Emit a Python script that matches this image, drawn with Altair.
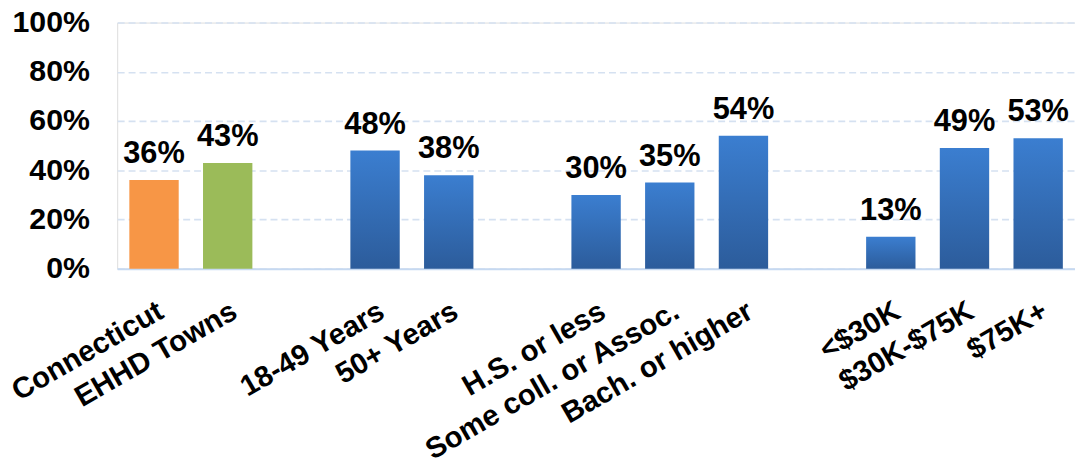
import altair as alt
import pandas as pd

# ---- data ----
labels = ["Connecticut", "EHHD Towns", "18-49 Years", "50+ Years",
          "H.S. or less", "Some coll. or Assoc.", "Bach. or higher",
          "<$30K", "$30K-$75K", "$75K+"]
values = [0.36, 0.43, 0.48, 0.38, 0.30, 0.35, 0.54, 0.13, 0.49, 0.53]
kinds = ["ct", "ehhd", "blue", "blue", "blue", "blue", "blue", "blue", "blue", "blue"]
# category order on the axis, with blank spacer slots between groups
axis_order = ["Connecticut", "EHHD Towns", " ",
              "18-49 Years", "50+ Years", "  ",
              "H.S. or less", "Some coll. or Assoc.", "Bach. or higher", "   ",
              "<$30K", "$30K-$75K", "$75K+"]
y_ticks = [0, 0.2, 0.4, 0.6, 0.8, 1.0]

df = pd.DataFrame({"label": labels, "value": values, "kind": kinds})

FONT = "Liberation Sans"

x_enc = alt.X("label:N",
              scale=alt.Scale(domain=axis_order, paddingInner=0.33, paddingOuter=0.165),
              axis=alt.Axis(title=None, labelAngle=-30, labelAlign="right",
                            labelBaseline="top", labelFontSize=29.5,
                            labelFontWeight="bold", labelFont=FONT,
                            labelColor="#000000", labelPadding=28,
                            labelLimit=0, labelOverlap=False, ticks=False,
                            domainColor="#C6D9F1", domainWidth=2))
y_enc = alt.Y("value:Q",
              scale=alt.Scale(domain=[0, 1]),
              axis=alt.Axis(title=None, values=y_ticks, format=".0%",
                            labelFontSize=30.5, labelFontWeight="bold",
                            labelFont=FONT, labelColor="#000000",
                            labelPadding=28, ticks=False, domain=False,
                            gridColor="#D5E1F1", gridDash=[7, 4],
                            gridWidth=1.6))

base = alt.Chart(df)

solid_bars = base.transform_filter(alt.datum.kind != "blue").mark_bar().encode(
    x=x_enc, y=y_enc,
    color=alt.Color("kind:N", scale=alt.Scale(domain=["ct", "ehhd"],
                                              range=["#F79646", "#9BBB59"]),
                    legend=None))

grad = alt.Gradient(gradient="linear",
                    stops=[alt.GradientStop(color="#3B7ED0", offset=0),
                           alt.GradientStop(color="#2C5C9B", offset=1)],
                    x1=0, x2=0, y1=0, y2=1)
blue_bars = base.transform_filter(alt.datum.kind == "blue").mark_bar(fill=grad).encode(
    x=x_enc, y=y_enc)

text = base.mark_text(font=FONT, fontSize=31, fontWeight="bold", color="#000000",
                      baseline="alphabetic", dy=-17).encode(
    x=x_enc, y=y_enc, text=alt.Text("value:Q", format=".0%"))

chart = alt.layer(solid_bars, blue_bars, text).properties(
    width=965, height=248,
    padding={"left": 110, "top": 13, "right": 0, "bottom": 190},
    autosize=alt.AutoSizeParams(type="none"),
).configure_view(stroke=None).configure(background="#ffffff")

chart.save("out.html", embed_options={"renderer": "svg", "actions": False})
